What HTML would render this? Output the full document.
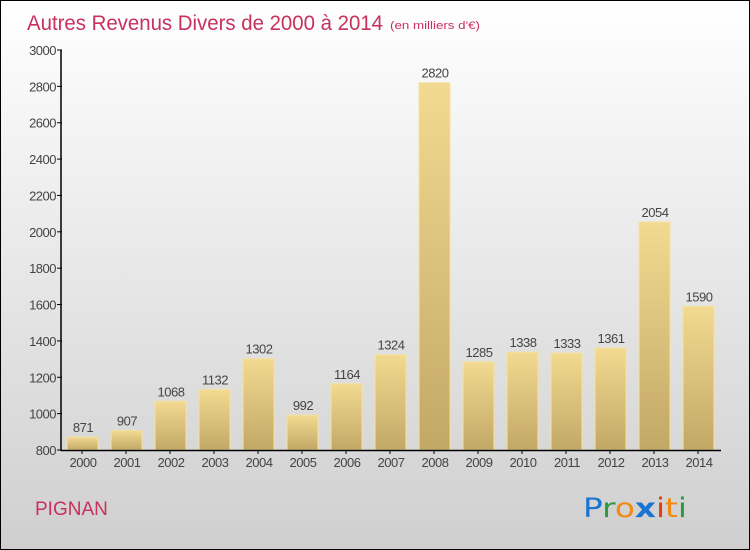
<!DOCTYPE html>
<html><head><meta charset="utf-8"><style>
body{margin:0}
#c{position:relative;width:748px;height:548px;border:1px solid #000;background:linear-gradient(#fff,#cfcfcf);font-family:"Liberation Sans",sans-serif;overflow:hidden}
</style></head><body>
<div id="c">
<svg id="s" width="748" height="548" style="position:absolute;left:0;top:0">
<defs><linearGradient id="g" x1="0" y1="0" x2="0" y2="1"><stop offset="0" stop-color="#f2da92"/><stop offset="1" stop-color="#c2a865"/></linearGradient></defs>
<text x="26" y="29" font-size="21" fill="#c8305e" textLength="356" lengthAdjust="spacingAndGlyphs">Autres Revenus Divers de 2000 à 2014</text>
<text x="389" y="28" font-size="11" fill="#c8305e" textLength="90" lengthAdjust="spacingAndGlyphs">(en milliers d'€)</text>
<text x="34" y="514" font-size="19" fill="#c8305e">PIGNAN</text>
<g font-size="27" font-family="'DejaVu Sans',sans-serif"><text x="582" y="516" textLength="104" lengthAdjust="spacingAndGlyphs"><tspan fill="#1a74d0">P</tspan><tspan fill="#2a9a3a">r</tspan><tspan fill="#f08a10">o</tspan><tspan fill="#1a74d0" font-weight="bold">x</tspan><tspan fill="#e83a10">i</tspan><tspan fill="#f08a10">t</tspan><tspan fill="#2a9a3a">i</tspan></text></g>
<g id="plot"></g>
</svg>
</div>
<script>
const categories=["2000","2001","2002","2003","2004","2005","2006","2007","2008","2009","2010","2011","2012","2013","2014"];
const values=[871,907,1068,1132,1302,992,1164,1324,2820,1285,1338,1333,1361,2054,1590];
const yTicks=[800,1000,1200,1400,1600,1800,2000,2200,2400,2600,2800,3000];
const NS="http://www.w3.org/2000/svg";
const plot=document.getElementById('plot');
const y=v=>449-(v-800)*(400/2200);
const x=i=>81+i*44;
function mk(t,a){const e=document.createElementNS(NS,t);for(const k in a)e.setAttribute(k,a[k]);plot.appendChild(e);return e;}
yTicks.forEach(v=>{
 const t=mk('text',{x:55,y:y(v)+5,'font-size':13,fill:'#444','text-anchor':'end','letter-spacing':'-0.5'});t.textContent=v;
 
 
 const l=mk('line',{x1:56,x2:61,y1:y(v),y2:y(v),stroke:'#000'});
 
 
});
categories.forEach((c,i)=>{
 const r=mk('rect',{x:x(i)-15,y:y(values[i]),width:31,height:449-y(values[i]),fill:'url(#g)',stroke:'#f5e2a0','stroke-width':1});
 
 
 const v=mk('text',{x:x(i)+1,y:y(values[i])-5,'font-size':13,fill:'#444','text-anchor':'middle','letter-spacing':'-0.5'});v.textContent=values[i];
 
 
 const t=mk('text',{x:x(i)+1,y:466,'font-size':13,fill:'#444','text-anchor':'middle','letter-spacing':'-0.5'});t.textContent=c;
 
 
 const k=mk('line',{x1:x(i),x2:x(i),y1:449,y2:453,stroke:'#000'});
 
 
});
const ya=mk('line',{x1:60,x2:60,y1:y(3000),y2:450,stroke:'#000','stroke-width':1.5});


const xa=mk('line',{x1:60,x2:720,y1:449.5,y2:449.5,stroke:'#000','stroke-width':1.5});


</script>
</body></html>
